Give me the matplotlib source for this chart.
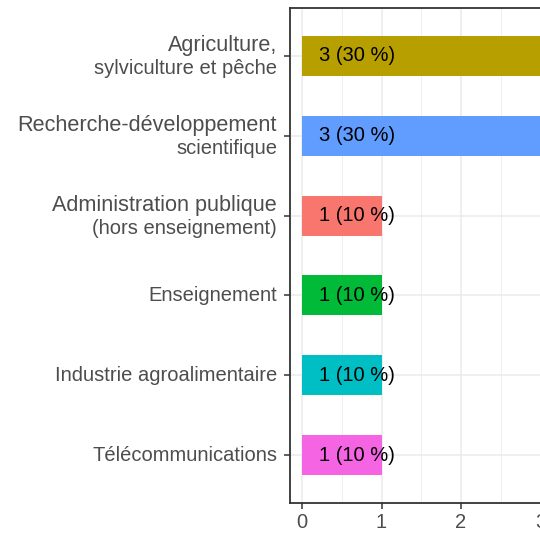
import matplotlib
matplotlib.use("Agg")
import matplotlib.pyplot as plt
from matplotlib.ticker import MultipleLocator

# data, top to bottom as in the chart
secteurs = ["Agriculture,\nsylviculture et pêche",
            "Recherche-développement\nscientifique",
            "Administration publique\n(hors enseignement)",
            "Enseignement",
            "Industrie agroalimentaire",
            "Télécommunications"]
effectifs = [3, 3, 1, 1, 1, 1]
pourcents = [30, 30, 10, 10, 10, 10]
couleurs = ["#B79F00", "#619CFF", "#F8766D", "#00BA38", "#00BFC4", "#F564E3"]

plt.rcParams['font.family'] = ['Liberation Sans', 'DejaVu Sans']

fig = plt.figure(figsize=(5.4, 5.35), dpi=100)
# the right edge of the panel runs past the picture, as in the reference
ax = fig.add_axes([290.1 / 540, 32 / 535, 262.4 / 540, 495 / 535])

n = len(secteurs)
ypos = [n - i for i in range(n)]
ax.barh(ypos, effectifs, height=0.5, color=couleurs, zorder=2)
for y, e, p in zip(ypos, effectifs, pourcents):
    ax.text(0.21, y, "%d (%d %%)" % (e, p), ha='left', va='center',
            fontsize=14.5, color='black', zorder=3)

ax.set_xlim(-0.15, 3.15)
ax.set_ylim(0.4, n + 0.6)
ax.set_yticks(ypos)
ax.set_yticklabels([""] * n)

# category labels: the first line of a wrapped label is drawn a bit larger
for y, lab in zip(ypos, secteurs):
    lignes = lab.split("\n")
    if len(lignes) == 2:
        ax.annotate(lignes[0], xy=(0, y), xycoords=('axes fraction', 'data'),
                    xytext=(-9.4, 3.6), textcoords='offset points',
                    ha='right', va='baseline', fontsize=15.6, color='#4d4d4d')
        ax.annotate(lignes[1], xy=(0, y), xycoords=('axes fraction', 'data'),
                    xytext=(-9.4, -13.0), textcoords='offset points',
                    ha='right', va='baseline', fontsize=14.5, color='#4d4d4d')
    else:
        ax.annotate(lab, xy=(0, y), xycoords=('axes fraction', 'data'),
                    xytext=(-9.4, -4.1), textcoords='offset points',
                    ha='right', va='baseline', fontsize=14.5, color='#4d4d4d')

ax.xaxis.set_major_locator(MultipleLocator(1))
ax.xaxis.set_minor_locator(MultipleLocator(0.5))
ax.tick_params(axis='x', labelsize=14.5, labelcolor='#4d4d4d', length=4.5,
               width=1.1, color='#333333', pad=3)
ax.tick_params(axis='y', length=4.5, width=1.1, color='#333333', pad=4)
ax.tick_params(which='minor', length=0)

ax.grid(which='major', color='#ebebeb', linewidth=1.1, zorder=0)
ax.grid(which='minor', axis='x', color='#ebebeb', linewidth=0.55, zorder=0)
ax.set_axisbelow(True)

for s in ['left', 'top', 'bottom']:
    ax.spines[s].set_color('#333333')
    ax.spines[s].set_linewidth(1.3)
ax.spines['right'].set_visible(False)

fig.savefig("out.png", dpi=100)
